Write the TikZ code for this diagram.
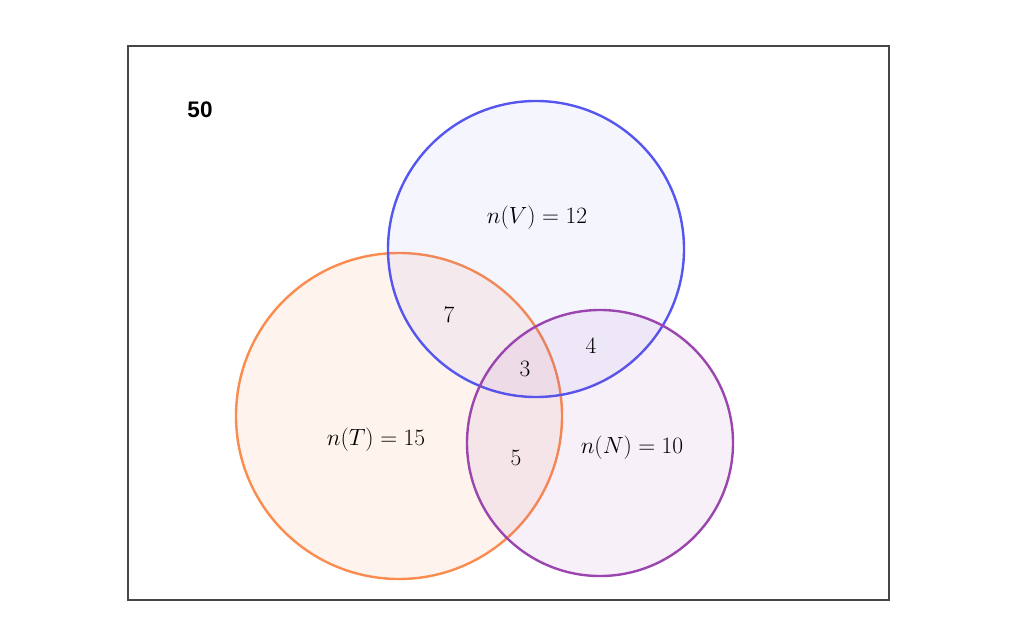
\documentclass[tikz,border=0pt]{standalone}
\usepackage{graphicx}
\usepackage{fontspec}
\newfontfamily\labelsans{Liberation Sans}
\definecolor{vblue}{RGB}{85,85,240}
\definecolor{torange}{RGB}{250,140,80}
\definecolor{npurple}{RGB}{155,70,175}
\definecolor{boxgray}{RGB}{70,70,70}
\newcommand{\bigmath}[1]{\scalebox{1.13}{\fontsize{20.74}{25}\selectfont$#1$}}
\tikzset{
  setcircle/.style={line width=2.4pt, fill opacity=0.1},
  lbl/.style={inner sep=0pt},
}
\begin{document}
\begin{tikzpicture}[x=1pt,y=-1pt]
\useasboundingbox (0,0) rectangle (1024,639);
\fill[white] (0,0) rectangle (1024,639);
\draw[boxgray, line width=2.4pt] (128,46) rectangle (889,600);
\node[font=\labelsans\bfseries\fontsize{22.5}{26}\selectfont, inner sep=0pt] (total) at (200,110) {50};
\draw[setcircle, torange, fill=torange] (399,416) circle (163);
\draw[setcircle, vblue, fill=vblue, fill opacity=0.06] (536,249) circle (148);
\draw[setcircle, npurple, fill=npurple, fill opacity=0.08] (600,443) circle (133);
\node[lbl] (nv) at (537,218) {\bigmath{n(V)=12}};
\node[lbl] (nt) at (376,440) {\bigmath{n(T)=15}};
\node[lbl] (nn) at (632,448) {\bigmath{n(N)=10}};
\node[lbl] (vt) at (449,315) {\bigmath{7}};
\node[lbl] (vtn) at (525,369) {\bigmath{3}};
\node[lbl] (vn) at (591,346) {\bigmath{4}};
\node[lbl] (tn) at (516,458) {\bigmath{5}};
\end{tikzpicture}
\end{document}
